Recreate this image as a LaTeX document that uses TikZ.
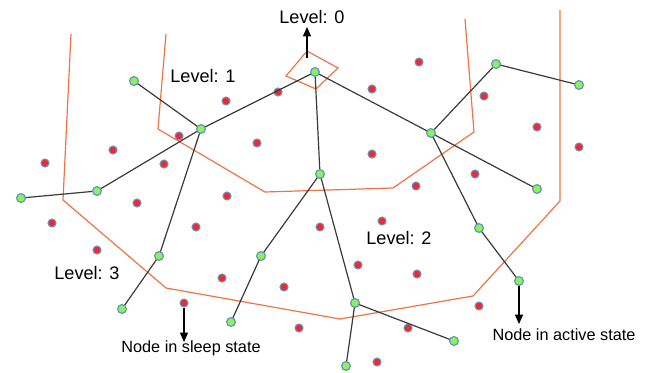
\documentclass[tikz,border=0pt]{standalone}
\usepackage{fontspec}
\setmainfont{Liberation Sans}
\usetikzlibrary{arrows.meta}
\definecolor{actg}{HTML}{86F55A}
\definecolor{slpr}{HTML}{EE2A2E}
\definecolor{rimb}{HTML}{6E8FC0}
\definecolor{zone}{HTML}{EE7448}
\definecolor{edgec}{HTML}{3A3A3A}
\tikzset{
  act/.style={circle,fill=actg,draw=rimb,line width=0.9pt,inner sep=0pt,minimum size=6.6pt},
  slp/.style={circle,fill=slpr,draw=rimb,line width=0.8pt,inner sep=0pt,minimum size=6pt},
  link/.style={draw=edgec,line width=0.9pt},
  zoneline/.style={draw=zone,line width=0.9pt},
  lvl/.style={font=\fontsize{13.6pt}{15pt}\selectfont,inner sep=0pt},
  note/.style={font=\fontsize{12.2pt}{14pt}\selectfont,inner sep=0pt},
  pointer/.style={draw=black,line width=0.9pt,-{Triangle[length=7pt,width=6pt]}}
}
\begin{document}
\begin{tikzpicture}[x=0.75pt,y=-0.75pt]
\useasboundingbox (0,0) rectangle (646,372);
% zones
\draw[zoneline] (286,76) -- (307,51) -- (338,68) -- (316,89) -- cycle;
\draw[zoneline] (166,34) -- (158,129) -- (265,192) -- (393,188) -- (474,132) -- (465,19);
\draw[zoneline] (71,34) -- (63,200) -- (166,288) -- (340,319) -- (473,296) -- (560,201) -- (560,10);
% sleeping nodes
\foreach \p [count=\i] in {(45,163),(52,223),(97,250),(113,150),(137,203),(164,164),(179,136),(184,303),(196,227),(222,278),(226,101),(227,196),(257,143),(278,92),(284,287),(299,328),(320,227),(358,265),(372,89),(372,154),(377,362),(382,221),(408,328),(416,186),(417,274),(419,62),(475,174),(479,306),(484,96),(537,127),(579,147)}
  \node[slp] (r\i) at \p {};
% active node coordinates
\coordinate (g0) at (315,72);
\coordinate (g1) at (201,129);
\coordinate (g2) at (134,81);
\coordinate (g3) at (97,191);
\coordinate (g4) at (21,198);
\coordinate (g5) at (159,256);
\coordinate (g6) at (122,309);
\coordinate (g7) at (320,174);
\coordinate (g8) at (261,256);
\coordinate (g9) at (231,322);
\coordinate (g10) at (355,303);
\coordinate (g11) at (346,366);
\coordinate (g12) at (454,341);
\coordinate (g13) at (431,133);
\coordinate (g14) at (496,64);
\coordinate (g15) at (579,85);
\coordinate (g16) at (537,189);
\coordinate (g17) at (479,228);
\coordinate (g18) at (519,281);
% tree links
\foreach \a/\b in {g0/g1,g0/g7,g0/g13,g1/g2,g1/g3,g1/g5,g3/g4,g5/g6,g7/g8,g7/g10,g8/g9,g10/g11,g10/g12,g13/g14,g13/g16,g13/g17,g14/g15,g17/g18}
  \draw[link] (\a) -- (\b);
% active nodes
\foreach \i in {0,...,18}
  \node[act] (n\i) at (g\i) {};
% labels
\node[lvl] (l0) at (312,17) {Level: 0};
\node[lvl] (l1) at (203,76) {Level: 1};
\node[lvl] (l2) at (399,238) {Level: 2};
\node[lvl] (l3) at (87,273) {Level: 3};
\node[note] (ns) at (191,348) {Node in sleep state};
\node[note] (na) at (564,335) {Node in active state};
\coordinate (d0) at (307,58);
\coordinate (t0) at (307,27);
\draw[pointer] (d0) -- (t0);
\coordinate (t1) at (184,342);
\draw[pointer] (r8) -- (t1);
\coordinate (t2) at (519,324);
\draw[pointer] (n18) -- (t2);
\end{tikzpicture}
\end{document}
